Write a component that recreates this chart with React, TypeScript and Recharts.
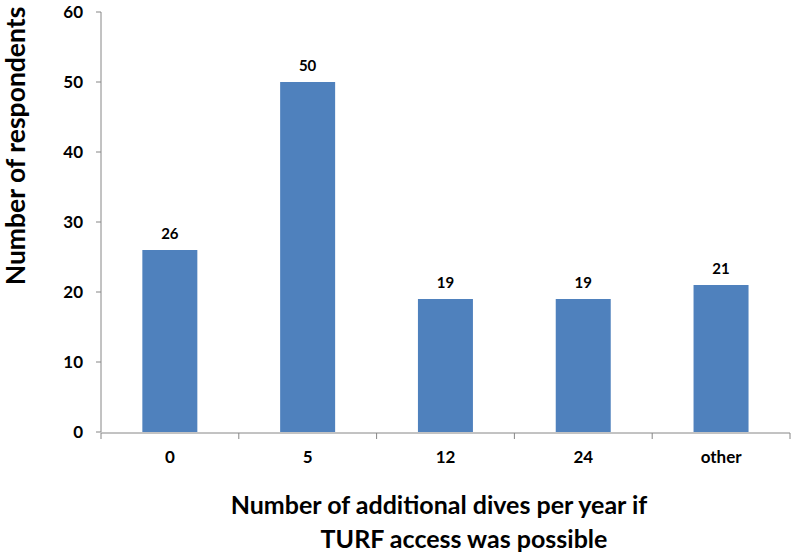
import { Bar, BarChart, LabelList, XAxis, YAxis } from "recharts";

const categories = ["0", "5", "12", "24", "other"];
const respondents = [26, 50, 19, 19, 21];
const yTicks = [0, 10, 20, 30, 40, 50, 60];
const boundaries = categories.map((_, i) => i).concat(categories.length);

const data = categories.map((name, i) => ({ name, value: respondents[i] }));

const font = "Lato, 'Open Sans', sans-serif";
const axisColor = "#868686";

export default function App() {
  return (
    <div
      style={{
        position: "absolute",
        left: 0,
        top: 0,
        width: 792,
        height: 555,
        background: "#fff",
        fontFamily: font,
      }}
    >
      <BarChart
        width={792}
        height={555}
        data={data}
        margin={{ top: 12, right: 2, left: 0, bottom: 0 }}
        barCategoryGap="30%"
      >
        <XAxis
          xAxisId="cat"
          dataKey="name"
          axisLine={false}
          tickLine={false}
          tickSize={0}
          tickMargin={19}
          height={1}
          tick={{ fill: "#000", fontSize: 17, fontWeight: 700, fontFamily: font }}
        />
        <XAxis
          xAxisId="grid"
          type="number"
          dataKey="x"
          domain={[0, categories.length]}
          ticks={boundaries}
          allowDataOverflow
          stroke={axisColor}
          tickSize={6}
          tickFormatter={() => ""}
          height={122}
        />
        <YAxis
          domain={[0, 60]}
          ticks={yTicks}
          stroke={axisColor}
          tickSize={5}
          tickMargin={13}
          width={101}
          tick={{ fill: "#000", fontSize: 17, fontWeight: 700, fontFamily: font }}
        />
        <Bar dataKey="value" xAxisId="cat" fill="#4f81bd" isAnimationActive={false}>
          <LabelList
            dataKey="value"
            position="top"
            offset={11}
            fill="#000"
            fontSize={15}
            fontWeight={700}
            fontFamily={font}
          />
        </Bar>
      </BarChart>

      <div
        style={{
          position: "absolute",
          left: 15,
          top: 146,
          transform: "translate(-50%, -50%) rotate(-90deg)",
          whiteSpace: "nowrap",
          fontSize: 26.5,
          lineHeight: "30px",
          fontWeight: 700,
          color: "#000",
        }}
      >
        Number of respondents
      </div>

      <div
        style={{
          position: "absolute",
          left: 439,
          top: 487,
          transform: "translateX(-50%)",
          whiteSpace: "nowrap",
          fontSize: 25,
          fontWeight: 700,
          color: "#000",
          lineHeight: "35px",
        }}
      >
        Number of additional dives per year if
      </div>
      <div
        style={{
          position: "absolute",
          left: 464,
          top: 521,
          transform: "translateX(-50%)",
          whiteSpace: "nowrap",
          fontSize: 25,
          fontWeight: 700,
          color: "#000",
          lineHeight: "35px",
        }}
      >
        TURF access was possible
      </div>
    </div>
  );
}
